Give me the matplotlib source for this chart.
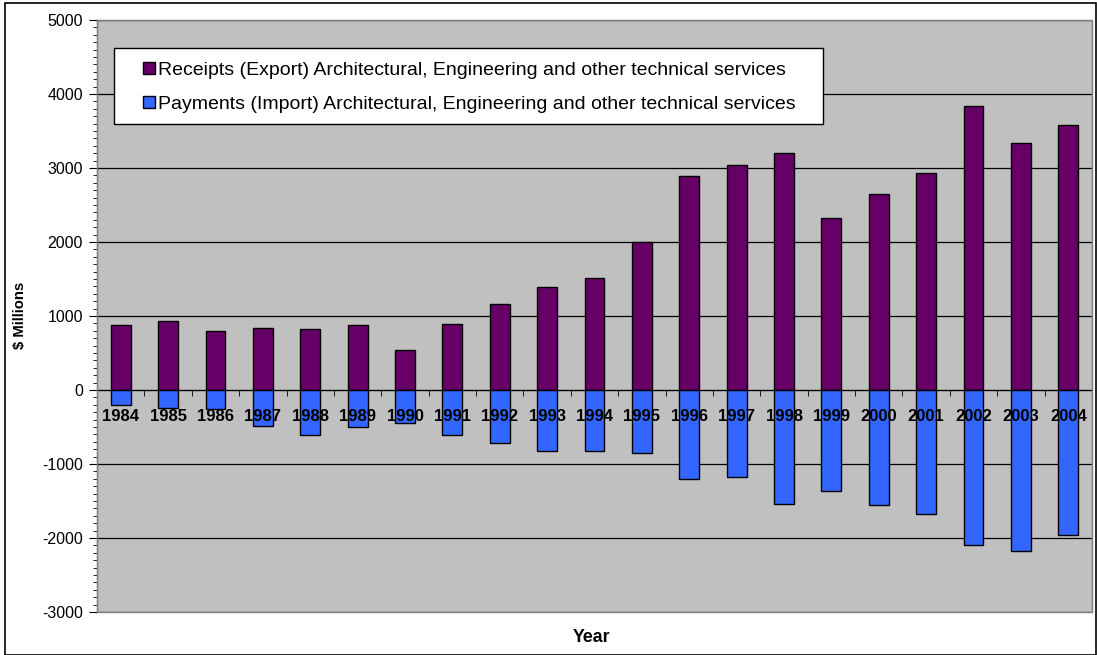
import matplotlib
matplotlib.use("Agg")
from matplotlib import pyplot as plt
from matplotlib.patches import Rectangle
import numpy as np

plt.rcParams['font.family'] = ['Liberation Sans', 'DejaVu Sans']
plt.rcParams['axes.unicode_minus'] = False

years = ['1984', '1985', '1986', '1987', '1988', '1989', '1990', '1991', '1992', '1993', '1994',
         '1995', '1996', '1997', '1998', '1999', '2000', '2001', '2002', '2003', '2004']
receipts = [874, 937, 797, 833, 829, 883, 541, 887, 1166, 1396, 1514,
            2000, 2892, 3045, 3198, 2324, 2653, 2937, 3842, 3333, 3577]
payments = [-198, -248, -260, -491, -604, -505, -450, -604, -712, -824, -824,
            -856, -1198, -1176, -1536, -1369, -1550, -1671, -2099, -2171, -1964]

receipts_label = "Receipts (Export) Architectural, Engineering and other technical services"
payments_label = "Payments (Import) Architectural, Engineering and other technical services"

W, H = 1097, 655
fig = plt.figure(figsize=(W/100, H/100), dpi=100)
ax = fig.add_axes([97/W, 43/H, 995/W, 592/H])
ax.set_facecolor('#C0C0C0')
ax.set_axisbelow(False)  # year labels drawn over the bars

x = np.arange(len(years))
ax.bar(x, receipts, width=0.42, color='#660066', edgecolor='black', linewidth=1, label=receipts_label, zorder=2)
ax.bar(x, payments, width=0.42, color='#3366FF', edgecolor='black', linewidth=1, label=payments_label, zorder=2)

# gridlines behind the bars
for v in range(-3000, 5001, 1000):
    ax.axhline(v, color='black', linewidth=0.9, zorder=0.5)

ax.set_xlim(-0.5, len(years) - 0.5)
ax.set_ylim(-3000, 5000)

ax.set_yticks(range(-3000, 5001, 1000))
ax.set_yticks(range(-3000, 5001, 100), minor=True)
ax.tick_params(axis='y', which='major', length=6, labelsize=11.5, pad=4)
ax.tick_params(axis='y', which='minor', length=3)

# x axis sits on zero, ticks between the categories
ax.spines['bottom'].set_position(('data', 0))
ax.set_xticks(x)
ax.set_xticklabels(years, fontweight='bold', fontsize=12)
ax.set_xticks(np.arange(-0.5, len(years), 1), minor=True)
ax.tick_params(axis='x', which='major', length=0, pad=14)
ax.tick_params(axis='x', which='minor', length=4, direction='out')

for s in ['top', 'right']:
    ax.spines[s].set_color('#808080')
ax.spines['left'].set_color('black')
ax.add_patch(Rectangle((0, 0), 1, 1, transform=ax.transAxes, fill=False,
                       edgecolor='#808080', linewidth=1, zorder=3, clip_on=False))

# legend box (white, black border) with the entries placed inside it
ax.add_patch(Rectangle((114/W, 1 - 124/H), (823 - 114)/W, 76/H, transform=fig.transFigure,
                       facecolor='white', edgecolor='black', linewidth=1, zorder=4, clip_on=False))
leg = ax.legend(loc='upper left', bbox_to_anchor=(143/W, 1 - 62/H), bbox_transform=fig.transFigure,
                borderaxespad=0, fontsize=14, frameon=False, handlelength=0.6, handleheight=0.6,
                handletextpad=0.15, labelspacing=0.85, borderpad=0)
leg.set_zorder(5)

fig.text(20/W, 1 - 315/H, '$ Millions', rotation=90, fontweight='bold', fontsize=10.7,
         ha='center', va='center')
fig.text(592/W, 1 - 638/H, 'Year', fontweight='bold', fontsize=12.8, ha='center', va='center')

fig.patches.append(Rectangle((5/W, 0), 1 - 6/W, 1 - 3/H, transform=fig.transFigure,
                             fill=False, edgecolor='black', linewidth=1.2))

fig.savefig('out.png', dpi=100)
